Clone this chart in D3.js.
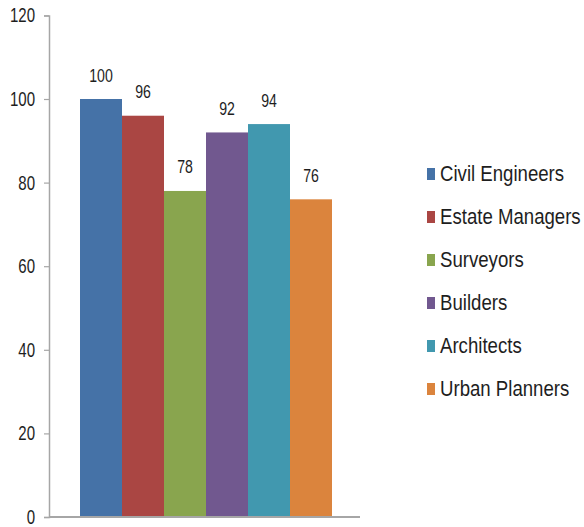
<!DOCTYPE html>
<html>
<head>
<meta charset="utf-8">
<script src="https://cdn.jsdelivr.net/npm/d3@7"></script>
<style>
  html, body { margin: 0; padding: 0; background: #fff; }
  svg { display: block; }
  text { font-family: "Liberation Sans", Arial, sans-serif; fill: #1e1e1e; }
</style>
</head>
<body>
<svg id="chart" width="584" height="527"></svg>
<script>
// Professions and their values
const categories = ["Civil Engineers", "Estate Managers", "Surveyors", "Builders", "Architects", "Urban Planners"];
const values = [100, 96, 78, 92, 94, 76];
const colors = ["#4572A7", "#AA4643", "#89A54E", "#71588F", "#4198AF", "#DB843D"];
const yTicks = [0, 20, 40, 60, 80, 100, 120];

const svg = d3.select("#chart");

const plot = { left: 49, right: 360, top: 15.4, bottom: 517 };
const barsLeft = 80, barsRight = 332;

const y = d3.scaleLinear().domain([0, 120]).range([plot.bottom, plot.top]);
const x = d3.scaleBand().domain(categories).range([barsLeft, barsRight]).padding(0);

// Condensed-looking text: horizontal squeeze of a regular sans face
const squeeze = 0.77;

// Y axis (line + ticks), labels drawn separately so they can be condensed
const yAxis = d3.axisLeft(y).tickValues(yTicks).tickSize(5).tickFormat("");
const gy = svg.append("g").attr("transform", `translate(${plot.left},0)`).call(yAxis);
gy.select(".domain").attr("stroke", "#a6a6a6").attr("stroke-width", 1.5);
gy.selectAll(".tick line").attr("stroke", "#a6a6a6").attr("stroke-width", 1.2);

svg.append("g").selectAll("text")
  .data(yTicks)
  .join("text")
  .attr("transform", d => `translate(35,${y(d)}) scale(${squeeze},1)`)
  .attr("text-anchor", "end")
  .attr("dy", "0.36em")
  .attr("font-size", 19.5)
  .text(d => d);

// Bars
svg.append("g").selectAll("rect")
  .data(categories)
  .join("rect")
  .attr("x", d => x(d))
  .attr("y", (d, i) => y(values[i]))
  .attr("width", x.bandwidth())
  .attr("height", (d, i) => y(0) - y(values[i]))
  .attr("fill", (d, i) => colors[i]);

// Value labels above bars
svg.append("g").selectAll("text")
  .data(categories)
  .join("text")
  .attr("transform", (d, i) => `translate(${x(d) + x.bandwidth() / 2},${y(values[i]) - 17.5}) scale(0.76,1)`)
  .attr("text-anchor", "middle")
  .attr("font-size", 18.6)
  .text((d, i) => values[i]);

// Baseline
svg.append("line")
  .attr("x1", plot.left).attr("x2", plot.right)
  .attr("y1", y(0)).attr("y2", y(0))
  .attr("stroke", "#a6a6a6").attr("stroke-width", 2);

// Legend
const legend = svg.append("g").attr("transform", "translate(427,181)");
const rowH = 43;
const items = legend.selectAll("g")
  .data(categories)
  .join("g")
  .attr("transform", (d, i) => `translate(0,${i * rowH})`);
items.append("rect")
  .attr("x", 0).attr("y", -13)
  .attr("width", 8).attr("height", 12)
  .attr("fill", (d, i) => colors[i]);
items.append("text")
  .attr("transform", "translate(13,0) scale(0.81,1)")
  .attr("font-size", 23)
  .text(d => d);
</script>
</body>
</html>
